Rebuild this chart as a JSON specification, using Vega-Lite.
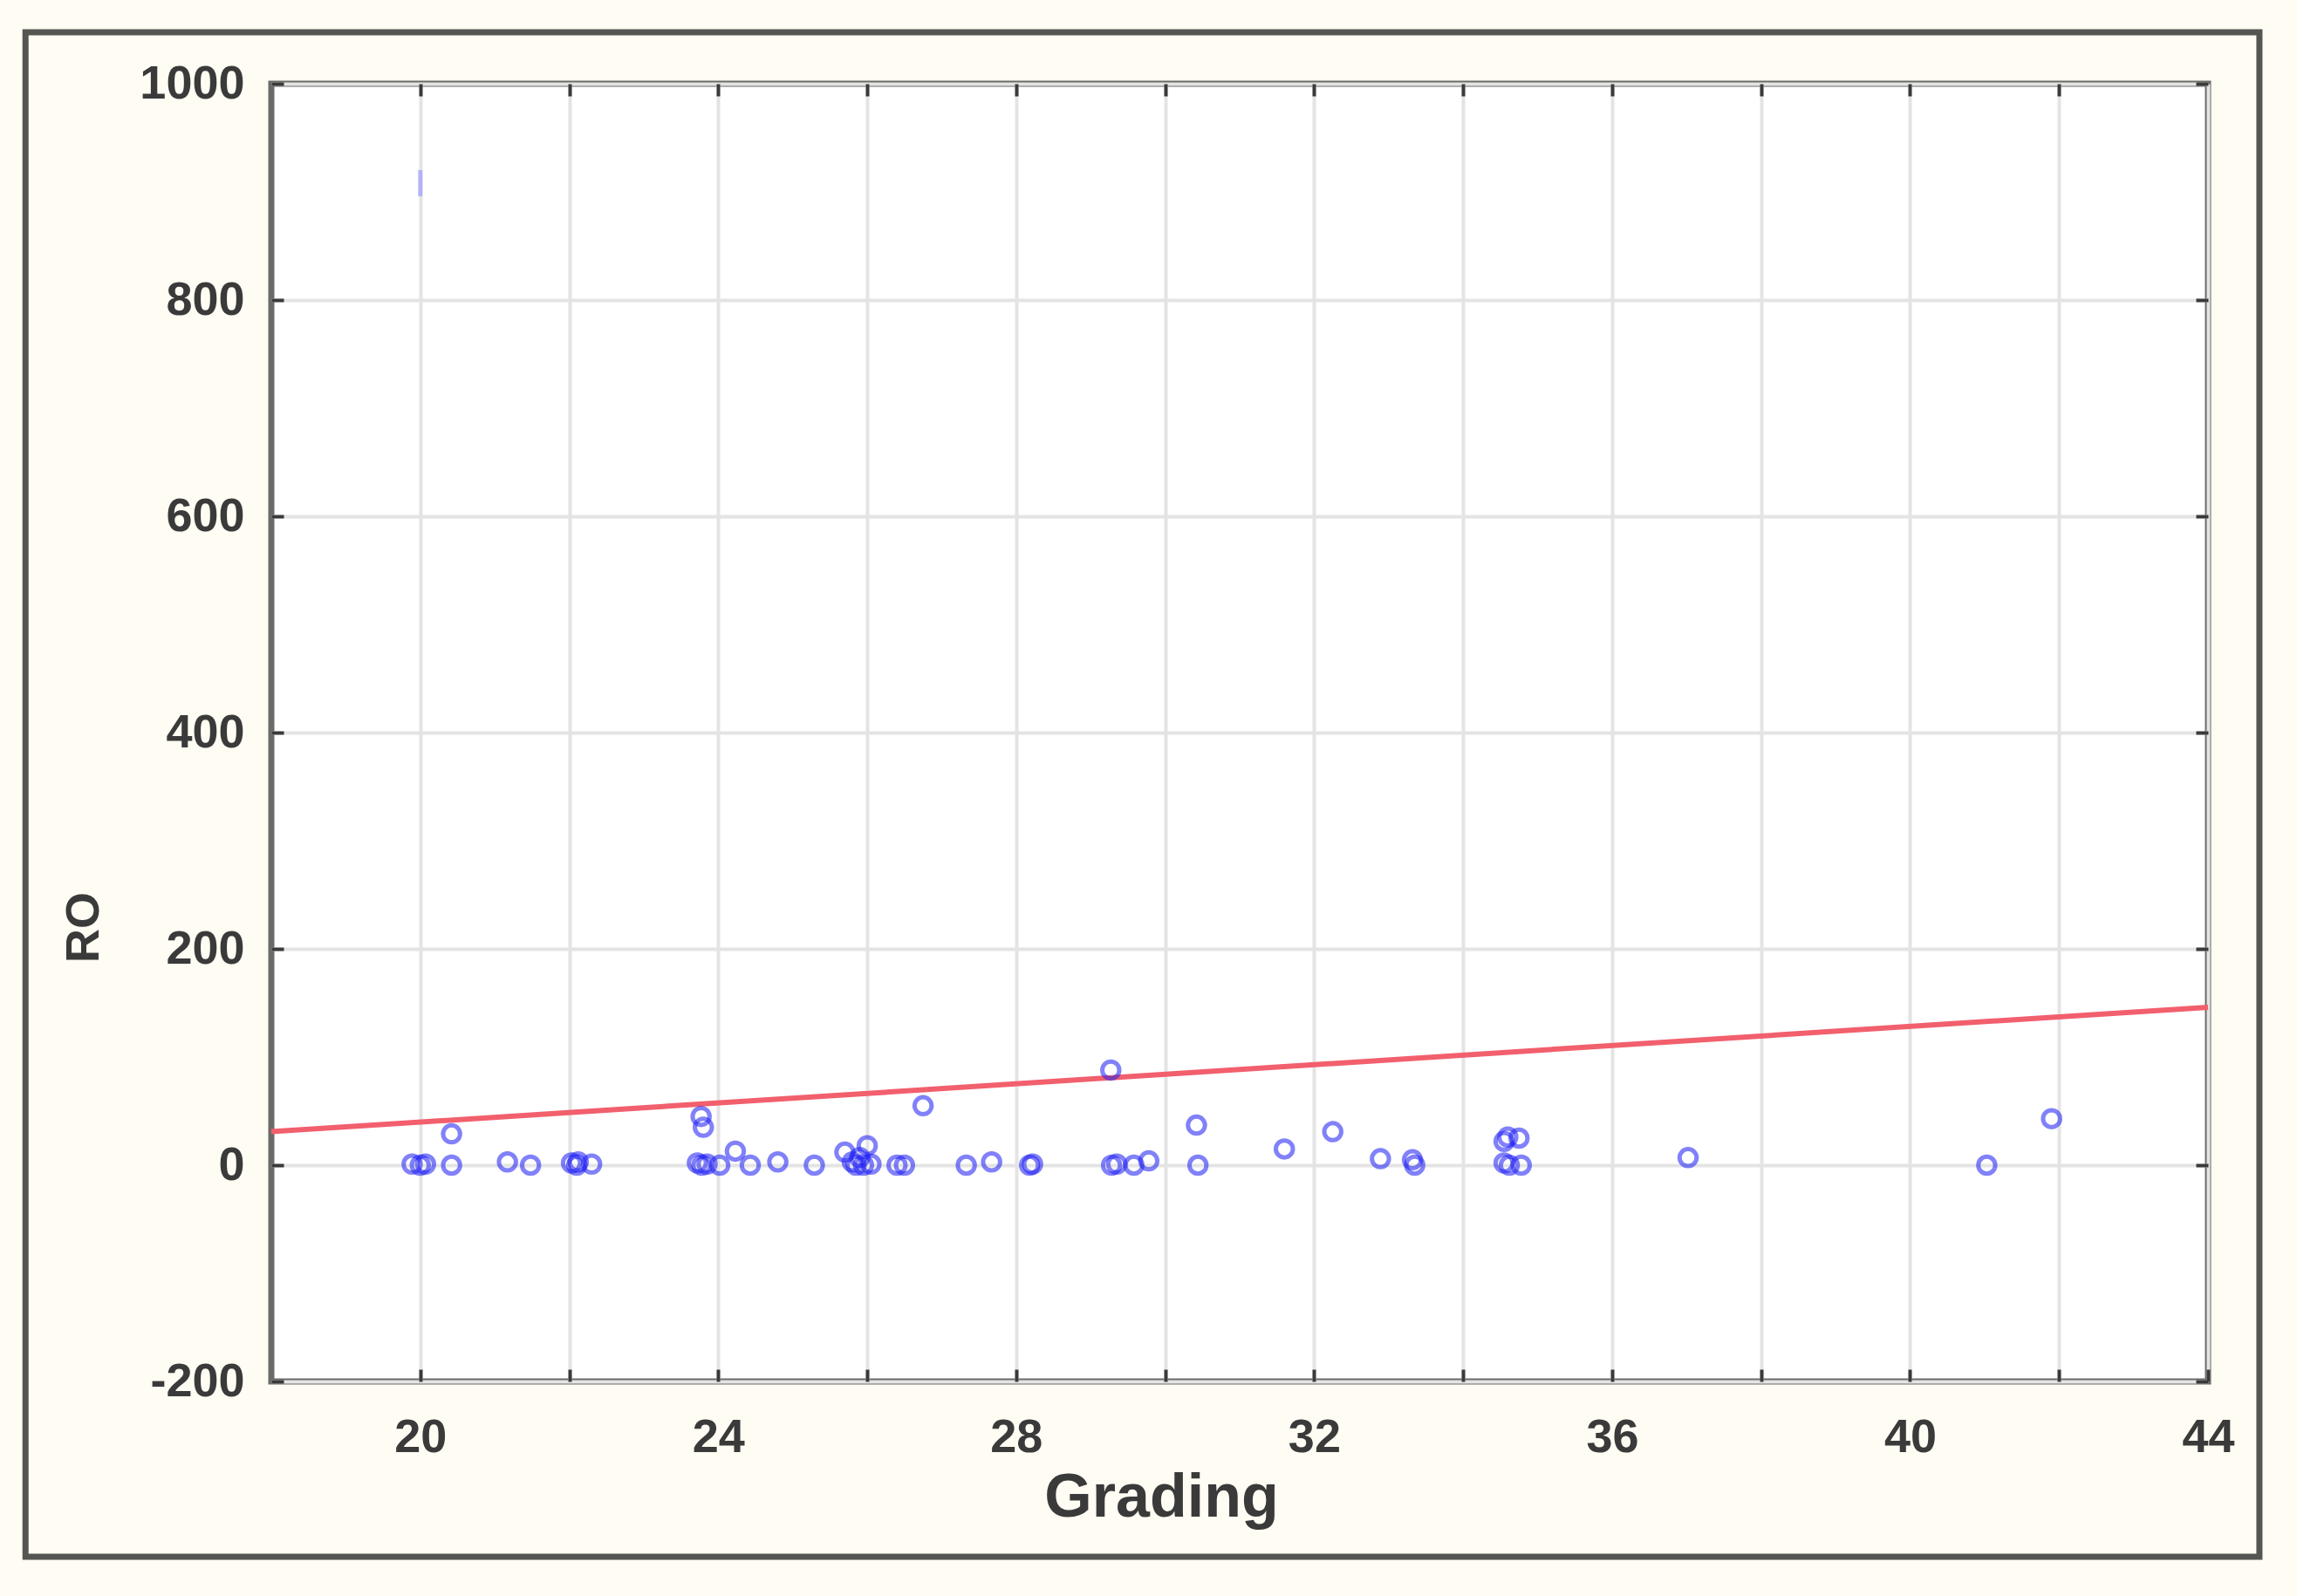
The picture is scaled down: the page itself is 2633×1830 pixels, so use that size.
{
  "$schema": "https://vega.github.io/schema/vega-lite/v6.json",
  "width": 2220,
  "height": 1488,
  "autosize": {"type": "none"},
  "padding": {"left": 311, "top": 96, "right": 102, "bottom": 246},
  "background": "#fefcf3",
  "config": {
    "view": {"fill": "#ffffff", "stroke": "#6a6a68", "strokeWidth": 7},
    "axis": {
      "labelFont": "Liberation Sans",
      "labelFontSize": 54,
      "labelFontWeight": "bold",
      "labelColor": "#3a3a3a",
      "titleFont": "Liberation Sans",
      "titleFontWeight": "bold",
      "titleColor": "#3a3a3a",
      "tickColor": "#3a3a3a",
      "tickWidth": 4,
      "domain": false,
      "gridColor": "#e4e4e4",
      "gridWidth": 4
    }
  },
  "datasets": {
    "points": [
      {"Grading": 19.89, "RO": 1}, {"Grading": 20.0, "RO": 0}, {"Grading": 20.07, "RO": 1},
      {"Grading": 20.42, "RO": 0}, {"Grading": 20.42, "RO": 29},
      {"Grading": 21.17, "RO": 3}, {"Grading": 21.48, "RO": 0},
      {"Grading": 22.03, "RO": 2}, {"Grading": 22.1, "RO": 0}, {"Grading": 22.12, "RO": 3}, {"Grading": 22.3, "RO": 1},
      {"Grading": 23.77, "RO": 45}, {"Grading": 23.8, "RO": 35},
      {"Grading": 23.72, "RO": 2}, {"Grading": 23.78, "RO": 0}, {"Grading": 23.85, "RO": 1}, {"Grading": 24.02, "RO": 0},
      {"Grading": 24.23, "RO": 13}, {"Grading": 24.43, "RO": 0}, {"Grading": 24.8, "RO": 3}, {"Grading": 25.29, "RO": 0},
      {"Grading": 25.7, "RO": 12}, {"Grading": 25.8, "RO": 3}, {"Grading": 25.85, "RO": 0}, {"Grading": 25.9, "RO": 7},
      {"Grading": 25.95, "RO": 0}, {"Grading": 26.0, "RO": 18}, {"Grading": 26.05, "RO": 1},
      {"Grading": 26.4, "RO": 0}, {"Grading": 26.5, "RO": 0},
      {"Grading": 26.75, "RO": 55},
      {"Grading": 27.33, "RO": 0}, {"Grading": 27.67, "RO": 3},
      {"Grading": 28.18, "RO": 0}, {"Grading": 28.22, "RO": 1},
      {"Grading": 29.27, "RO": 88},
      {"Grading": 29.28, "RO": 0}, {"Grading": 29.35, "RO": 1}, {"Grading": 29.58, "RO": 0}, {"Grading": 29.78, "RO": 4},
      {"Grading": 30.42, "RO": 37}, {"Grading": 30.44, "RO": 0},
      {"Grading": 31.6, "RO": 15}, {"Grading": 32.25, "RO": 31}, {"Grading": 32.89, "RO": 6},
      {"Grading": 33.32, "RO": 5}, {"Grading": 33.35, "RO": 0},
      {"Grading": 34.55, "RO": 22}, {"Grading": 34.6, "RO": 26}, {"Grading": 34.75, "RO": 25},
      {"Grading": 34.55, "RO": 2}, {"Grading": 34.62, "RO": 0}, {"Grading": 34.78, "RO": 0},
      {"Grading": 37.02, "RO": 7}, {"Grading": 41.03, "RO": 0}, {"Grading": 41.9, "RO": 43}
    ],
    "outlier": [{"Grading": 20.0, "RO": 908}],
    "fit": [{"Grading": 18, "RO": 31}, {"Grading": 44, "RO": 146}]
  },
  "layer": [
    {
      "data": {"values": [{}]},
      "mark": {"type": "rect", "filled": false, "stroke": "#555553", "strokeWidth": 7, "clip": false},
      "encoding": {
        "x": {"datum": 14.7, "type": "quantitative", "scale": {"domain": [18, 44], "nice": false, "zero": false}, "axis": null},
        "x2": {"datum": 44.69},
        "y": {"datum": 1047.6, "type": "quantitative", "scale": {"domain": [-200, 1000], "nice": false, "zero": false}, "axis": null},
        "y2": {"datum": -362}
      }
    },
    {
      "data": {"name": "fit"},
      "mark": {"type": "line", "color": "#f25f6d", "strokeWidth": 6},
      "encoding": {
        "x": {"field": "Grading", "type": "quantitative", "scale": {"domain": [18, 44], "nice": false, "zero": false},
              "axis": {"orient": "top", "values": [20, 22, 24, 26, 28, 30, 32, 34, 36, 38, 40, 42], "labels": false, "grid": false, "tickSize": -14, "title": null}},
        "y": {"field": "RO", "type": "quantitative", "scale": {"domain": [-200, 1000], "nice": false, "zero": false},
              "axis": {"orient": "right", "values": [-200, 0, 200, 400, 600, 800, 1000], "labels": false, "grid": false, "tickSize": -14, "title": null}}
      }
    },
    {
      "data": {"name": "points"},
      "mark": {"type": "point", "shape": "circle", "filled": false, "stroke": "#1f1ff5", "strokeOpacity": 0.8, "strokeWidth": 5, "size": 380},
      "encoding": {
        "x": {"field": "Grading", "type": "quantitative", "scale": {"domain": [18, 44], "nice": false, "zero": false},
              "axis": {"orient": "bottom", "values": [20, 22, 24, 26, 28, 30, 32, 34, 36, 38, 40, 42, 44], "grid": true, "tickSize": -14, "labelPadding": 51,
                       "labelExpr": "datum.value % 4 == 0 ? '' + datum.value : ''", "labelFlush": false,
                       "title": "Grading", "titleFontSize": 70, "titleX": 1020, "titleY": 154, "titleBaseline": "alphabetic", "titleAlign": "center"}},
        "y": {"field": "RO", "type": "quantitative", "scale": {"domain": [-200, 1000], "nice": false, "zero": false},
              "axis": {"orient": "left", "values": [-200, 0, 200, 400, 600, 800, 1000], "grid": true, "tickSize": -14, "labelPadding": 45, "labelFlush": false,
                       "labelExpr": "'' + datum.value",
                       "title": "RO", "titleFontSize": 54, "titleAngle": -90, "titleX": -199, "titleY": 967, "titleBaseline": "alphabetic", "titleAlign": "center"}}
      }
    },
    {
      "data": {"name": "outlier"},
      "mark": {"type": "tick", "orient": "vertical", "size": 30, "thickness": 5, "color": "#9c9cff"},
      "encoding": {
        "x": {"field": "Grading", "type": "quantitative", "scale": {"domain": [18, 44], "nice": false, "zero": false}, "axis": null},
        "y": {"field": "RO", "type": "quantitative", "scale": {"domain": [-200, 1000], "nice": false, "zero": false}, "axis": null}
      }
    }
  ],
  "resolve": {"axis": {"x": "independent", "y": "independent"}}
}
